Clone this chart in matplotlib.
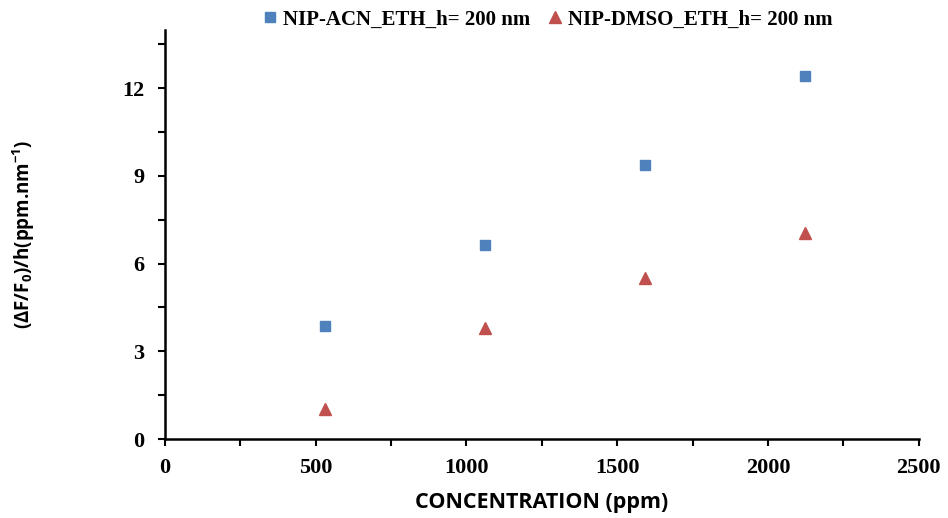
import matplotlib
matplotlib.use("Agg")
import matplotlib.pyplot as plt
from matplotlib.ticker import MultipleLocator

concentration = [531, 1062, 1593, 2124]
acn_values = [3.86, 6.63, 9.37, 12.41]
dmso_values = [1.03, 3.79, 5.50, 7.04]
labels = ["NIP-ACN_ETH_h= 200 nm", "NIP-DMSO_ETH_h= 200 nm"]

plt.rcParams["mathtext.default"] = "regular"

fig = plt.figure(figsize=(9.48, 5.18), dpi=100)
ax = fig.add_axes([0.174, 0.1525, 0.795, 0.79])

ax.plot(concentration, acn_values, "s", color="#4F81BD", markersize=7.5, label=labels[0])
ax.plot(concentration, dmso_values, "^", color="#C0504D", markersize=8.5, label=labels[1])

ax.set_xlim(0, 2500)
ax.set_ylim(0, 14)
ax.xaxis.set_major_locator(MultipleLocator(500))
ax.xaxis.set_minor_locator(MultipleLocator(250))
ax.yaxis.set_major_locator(MultipleLocator(3))
ax.yaxis.set_minor_locator(MultipleLocator(1.5))
ax.spines["top"].set_visible(False)
ax.spines["right"].set_visible(False)
for s in ["left", "bottom"]:
    ax.spines[s].set_linewidth(1.8)
ax.tick_params(which="both", direction="out", width=1.5, length=5)
ax.tick_params(axis="x", which="major", pad=9)
ax.tick_params(axis="y", which="major", pad=10)
for lab in ax.get_xticklabels() + ax.get_yticklabels():
    lab.set_fontfamily("Liberation Serif")
    lab.set_fontweight("bold")
    lab.set_fontsize(16)

ax.set_xlabel("CONCENTRATION (ppm)", fontfamily="Open Sans", fontweight="bold",
              fontsize=15.5, labelpad=10)
ax.set_ylabel("(ΔF/F$_0$)/h(ppm.nm$^{-1}$)", fontfamily="Open Sans", fontweight="bold",
              fontsize=13.5, labelpad=61)

fig.legend(loc="center", bbox_to_anchor=(0.575, 0.962), ncol=2, frameon=False,
           prop={"family": "Liberation Serif", "weight": "bold", "size": 15},
           handletextpad=0.0, columnspacing=0.6, handlelength=1.2)

fig.savefig("out.png", dpi=100)
